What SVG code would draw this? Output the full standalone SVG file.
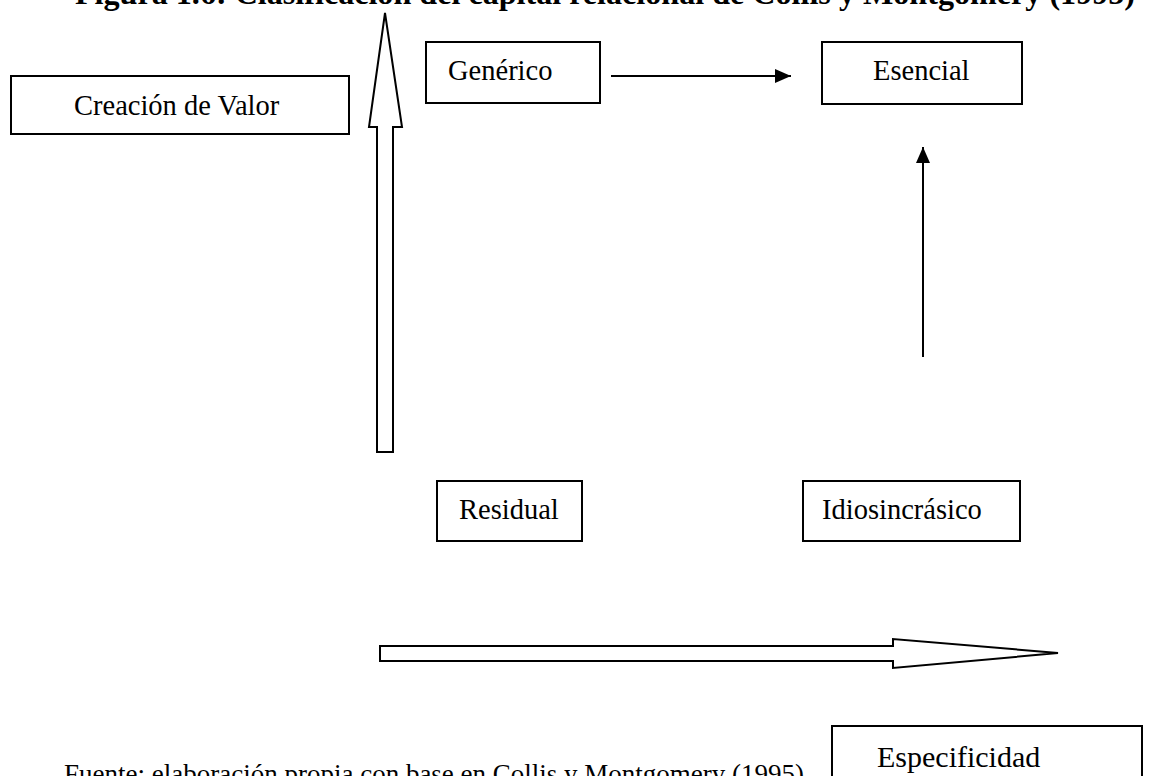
<svg xmlns="http://www.w3.org/2000/svg" width="1170" height="776" viewBox="0 0 1170 776">
  <style>
    .box { fill: #ffffff; stroke: #000000; stroke-width: 2; }
    .lbl { font-family: "Liberation Serif", "Times New Roman", serif; font-size: 28.5px; fill: #000000; }
    .title { font-family: "Liberation Serif", "Times New Roman", serif; font-size: 32px; font-weight: bold; fill: #000000; }
    .wire { stroke: #000000; stroke-width: 2; fill: none; }
    .block { fill: #ffffff; stroke: #000000; stroke-width: 2; stroke-linejoin: miter; }
  </style>
  <defs>
    <marker id="tri" viewBox="0 0 16 14" refX="16" refY="7" markerWidth="16" markerHeight="14" markerUnits="userSpaceOnUse" orient="auto">
      <path d="M0,0 L16,7 L0,14 Z" fill="#000000"/>
    </marker>
  </defs>
  <rect width="1170" height="776" fill="#ffffff"/>

  <!-- caption strip at the top, clipped by the page edge -->
  <text class="title" x="75" y="4" textLength="1060" lengthAdjust="spacingAndGlyphs">Figura 1.6: Clasificación del capital relacional de Collis y Montgomery (1995)</text>

  <g id="creacion-valor">
    <rect class="box" x="11" y="76" width="338" height="58"/>
    <text class="lbl" x="74" y="115">Creación de Valor</text>
  </g>
  <g id="generico">
    <rect class="box" x="426" y="42" width="174" height="61"/>
    <text class="lbl" x="448" y="80">Genérico</text>
  </g>
  <g id="esencial">
    <rect class="box" x="822" y="42" width="200" height="62"/>
    <text class="lbl" x="873" y="80">Esencial</text>
  </g>
  <g id="residual">
    <rect class="box" x="437" y="481" width="145" height="60"/>
    <text class="lbl" x="459" y="519">Residual</text>
  </g>
  <g id="idiosincrasico">
    <rect class="box" x="803" y="481" width="217" height="60"/>
    <text class="lbl" x="822" y="519">Idiosincrásico</text>
  </g>
  <g id="especificidad">
    <rect class="box" x="832" y="726" width="310" height="70"/>
    <text class="lbl" x="877" y="767" style="font-size:30px">Especificidad</text>
  </g>

  <g id="connectors">
    <!-- hollow axis arrows -->
    <polygon class="block" points="377,452 393,452 393,127 402,127 385,13 369,127 377,127"/>
    <polygon class="block" points="380,646 893,646 893,639 1058,653 893,668 893,661 380,661"/>
    <!-- plain arrows between quadrants -->
    <line class="wire" x1="611" y1="76" x2="791" y2="76" marker-end="url(#tri)"/>
    <line class="wire" x1="923" y1="357" x2="923" y2="147" marker-end="url(#tri)"/>
  </g>

  <text class="lbl" x="64" y="783" style="font-size:27px">Fuente: elaboración propia con base en Collis y Montgomery (1995)</text>
</svg>
